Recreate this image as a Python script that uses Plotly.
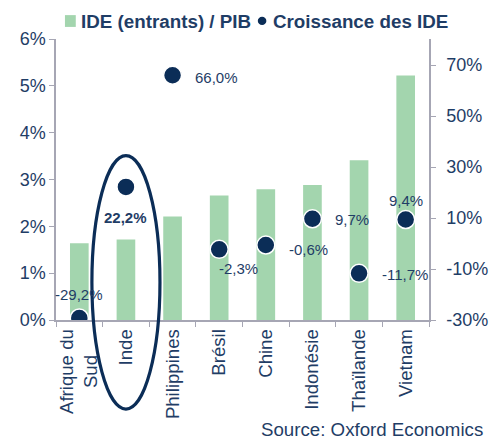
import plotly.graph_objects as go

countries = ["Afrique du<br>Sud&nbsp;&nbsp;&nbsp;&nbsp;&nbsp;", "Inde", "Philippines", "Brésil", "Chine", "Indonésie", "Thaïlande", "Vietnam"]
ide_pib = [1.64, 1.72, 2.21, 2.66, 2.79, 2.88, 3.41, 5.22]
croissance = [-29.2, 22.2, 66.0, -2.3, -0.6, 9.7, -11.7, 9.4]
labels = ["-29,2%", "<b>22,2%</b>", "66,0%", "-2,3%", "-0,6%", "9,7%", "-11,7%", "9,4%"]
left_ticks = [0, 1, 2, 3, 4, 5, 6]
left_ticktext = ["0%", "1%", "2%", "3%", "4%", "5%", "6%"]
right_ticks = [-30, -10, 10, 30, 50, 70]
right_ticktext = ["-30%", "-10%", "10%", "30%", "50%", "70%"]

# label placement (style only): anchor, x shift, y shift in pixels
label_anchor = ["center", "center", "left", "left", "left", "left", "left", "center"]
label_dx = [0, 0, 20, -2, 21, 21, 21, 0]
label_dy = [23, -31, -2, -19, -4, -1, -1, 19]

NAVY = "#0b2d57"
TXT = "#1f3d66"
GREEN = "#a3d5ae"
AX = "#a6a6b4"
FONT = "Liberation Sans, Arial"

fig = go.Figure()
fig.add_trace(go.Bar(
    x=countries, y=ide_pib, name="IDE (entrants) / PIB",
    marker=dict(color=GREEN, line=dict(width=0)), yaxis="y",
))
fig.add_trace(go.Scatter(
    x=countries, y=croissance, name="Croissance des IDE", yaxis="y2",
    mode="markers",
    marker=dict(color=NAVY, size=18, line=dict(color="white", width=1.5)),
))

for c, v, t, a, dx, dy in zip(countries, croissance, labels, label_anchor, label_dx, label_dy):
    fig.add_annotation(x=c, y=v, xref="x", yref="y2", text=t, showarrow=False,
                       xanchor=a, yanchor="middle", xshift=dx, yshift=dy,
                       font=dict(color=TXT, size=15, family=FONT))

# Highlight ellipse around "Inde"
i = countries.index("Inde")
fig.add_shape(type="circle", xref="x", yref="paper",
              x0=i - 0.73, x1=i + 0.73, y0=-0.317, y1=0.585,
              line=dict(color=NAVY, width=3.2), layer="above")

# Manual legend
fig.add_shape(type="rect", xref="paper", yref="paper", x0=0.024, x1=0.053, y0=1.043, y1=1.085,
              fillcolor=GREEN, line=dict(width=0))
fig.add_annotation(text="<b>IDE (entrants) / PIB</b>", xref="paper", yref="paper",
                   x=0.061, y=1.064, xanchor="left", yanchor="middle", showarrow=False,
                   font=dict(color=TXT, size=18.8, family=FONT))
fig.add_shape(type="circle", xref="paper", yref="paper", x0=0.541, x1=0.564, y0=1.050, y1=1.079,
              fillcolor=NAVY, line=dict(width=0))
fig.add_annotation(text="<b>Croissance des IDE</b>", xref="paper", yref="paper",
                   x=0.576, y=1.064, xanchor="left", yanchor="middle", showarrow=False,
                   font=dict(color=TXT, size=18.8, family=FONT))

fig.add_annotation(text="Source: Oxford Economics", xref="paper", yref="paper",
                   x=1.15, y=-0.39, xanchor="right", yanchor="middle", showarrow=False,
                   font=dict(color=TXT, size=18.7, family=FONT))

fig.update_layout(
    width=490, height=439,
    margin=dict(l=56, r=61, t=39, b=119, autoexpand=False),
    paper_bgcolor="white", plot_bgcolor="white",
    font=dict(family=FONT, color=TXT, size=18),
    bargap=0.6,
    showlegend=False,
    xaxis=dict(showline=True, linecolor=AX, linewidth=1.5, ticks="outside", ticklen=5,
               tickcolor=AX, tickson="boundaries", tickangle=-90,
               tickfont=dict(size=18.6, color=TXT), showgrid=False, range=[-0.5, 7.5]),
    yaxis=dict(range=[0, 6.0], tickmode="array", tickvals=left_ticks, ticktext=left_ticktext,
               showline=True, linecolor=AX,
               linewidth=1.5, ticks="outside", ticklen=5, tickcolor=AX, showgrid=False,
               zeroline=False, tickfont=dict(size=18, color=TXT)),
    yaxis2=dict(range=[-30, 80.2], tickmode="array", tickvals=right_ticks, ticktext=right_ticktext,
                overlaying="y",
                side="right", showline=True, linecolor=AX, linewidth=1.5, ticks="outside",
                ticklen=5, tickcolor=AX, showgrid=False, zeroline=False,
                ticklabelstandoff=7, tickfont=dict(size=18, color=TXT)),
)

fig.write_html("out.html")
